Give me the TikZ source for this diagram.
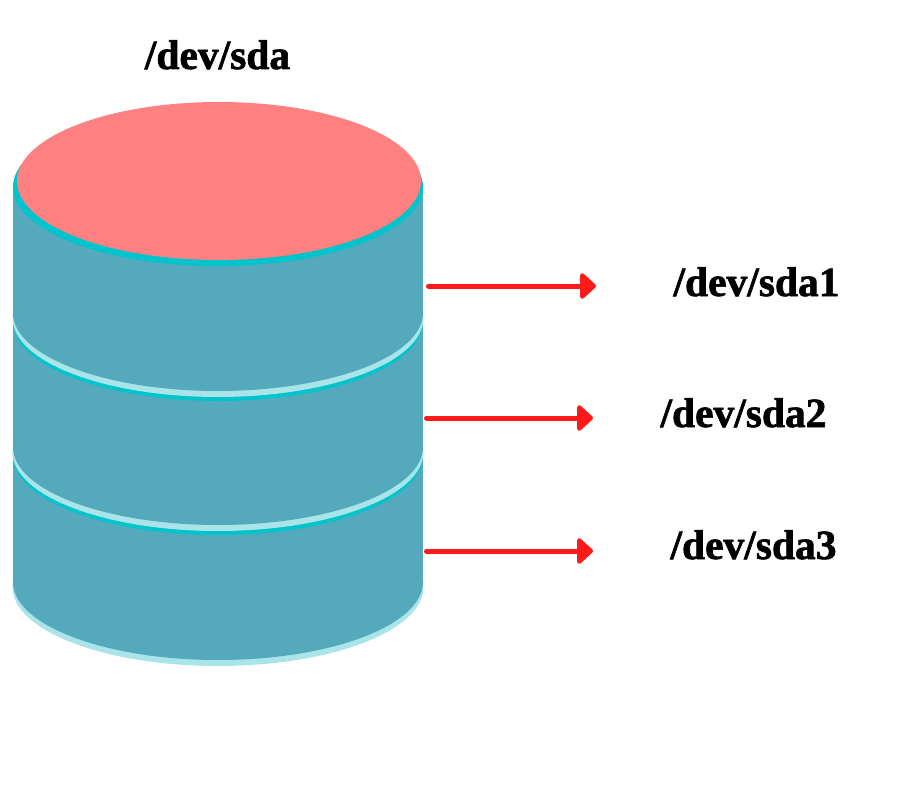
\documentclass[tikz,border=0pt]{standalone}
\usepackage{fontspec}
\setmainfont[BoldFeatures={FakeBold=1.6}]{Liberation Serif}
\usetikzlibrary{arrows.meta}
\definecolor{diskbody}{HTML}{55A9BD}
\definecolor{diskrim}{HTML}{00C4CC}
\definecolor{disklight}{HTML}{A9E5E8}
\definecolor{disktop}{HTML}{FF8080}
\definecolor{partarrow}{HTML}{FF1A1A}
\tikzset{
  partlabel/.style={anchor=base, font=\fontsize{41.5}{46}\selectfont\bfseries, text=black, inner sep=0pt},
  partline/.style={partarrow, line width=5pt, line cap=round, -{Triangle[round, length=17pt, width=30pt]}}
}

\begin{document}
\begin{tikzpicture}[x=1pt, y=-1pt]
      \useasboundingbox (0,0) rectangle (900,800);
      % Bottom of the disk
      \fill[disklight] (218,587) ellipse [x radius=205.5, y radius=79];
      \fill[diskbody] (218,582) ellipse [x radius=205, y radius=78];
      \fill[diskbody] (13,450) rectangle (423,582);
      % Third partition
      \fill[diskrim] (218,456) ellipse [x radius=205, y radius=79];
      \fill[disklight] (218,452) ellipse [x radius=205.5, y radius=79];
      \fill[diskbody] (218,447) ellipse [x radius=205, y radius=78];
      \fill[diskbody] (13,316) rectangle (423,447);
      % Second partition
      \fill[diskrim] (218,322) ellipse [x radius=205, y radius=79];
      \fill[disklight] (218,318) ellipse [x radius=205.5, y radius=79];
      \fill[diskbody] (218,313) ellipse [x radius=205, y radius=78];
      \fill[diskbody] (13,186) rectangle (423,313);
      % Top of the disk
      \fill[diskrim] (218,187) ellipse [x radius=205, y radius=79];
      \fill[disktop] (219,181) ellipse [x radius=202, y radius=79];
      % Labels
      \node[partlabel] (sda) at (217.5,69) {/dev/sda};
      \node[partlabel] (sdaA) at (756.5,296) {/dev/sda1};
      \node[partlabel] (sdaB) at (743.5,427) {/dev/sda2};
      \node[partlabel] (sdaC) at (753.5,559) {/dev/sda3};
      % Arrows
      \coordinate (startA) at (428.5,286); \coordinate (endA) at (596,286);
      \coordinate (startB) at (426.5,418); \coordinate (endB) at (593,418);
      \coordinate (startC) at (426.5,551); \coordinate (endC) at (593,551);
      \draw[partline] (startA) -- (endA);
      \draw[partline] (startB) -- (endB);
      \draw[partline] (startC) -- (endC);
\end{tikzpicture}
\end{document}
